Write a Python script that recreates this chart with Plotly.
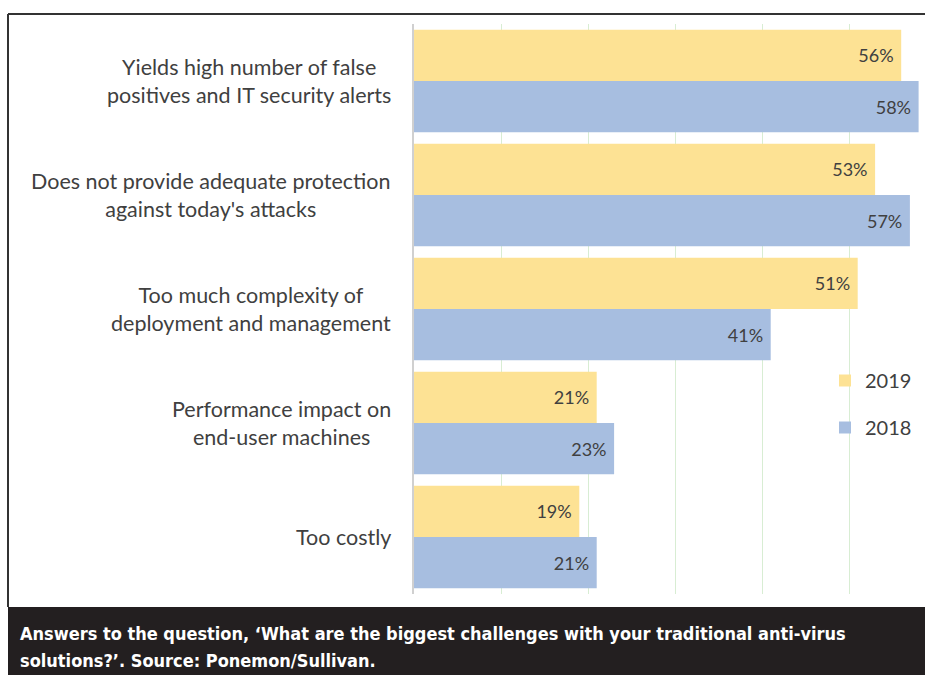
import plotly.graph_objects as go

categories = [
    "Yields high number of false<br>positives and IT security alerts",
    "Does not provide adequate protection<br>against today's attacks",
    "Too much complexity of<br>deployment and management",
    "Performance impact on<br>end-user machines",
    "Too costly",
]
values_2019 = [56, 53, 51, 21, 19]
values_2018 = [58, 57, 41, 23, 21]
series_names = ["2019", "2018"]
caption_lines = [
    "Answers to the question, \u2018What are the biggest challenges with your traditional anti-virus",
    "solutions?\u2019. Source: Ponemon/Sullivan.",
]

W, H = 925, 675
L, R, T, B = 414, 925, 24, 594
def px_x(p):
    return (p - L) / (R - L)
def px_y(p):
    return (B - p) / (B - T)

FONT = "Lato, 'Open Sans', sans-serif"
TXT = "#404040"
YEL = "#FDE294"
BLU = "#A7BEE0"

fig = go.Figure()
for name, vals, col in [(series_names[0], values_2019, YEL), (series_names[1], values_2018, BLU)]:
    fig.add_trace(go.Bar(
        y=categories, x=vals, orientation="h", name=name, legendgroup=name,
        marker=dict(color=col, line=dict(width=0)),
        texttemplate="%{x}%\u00a0", textposition="inside", insidetextanchor="end",
        textfont=dict(family=FONT, size=18, color=TXT), cliponaxis=False,
    ))

annotations = []
for c in categories:
    annotations.append(dict(
        x=px_x(393), xref="paper", y=c, yref="y", text=c, showarrow=False,
        xanchor="right", yanchor="middle", align="center",
        font=dict(family=FONT, size=21.5, color=TXT),
    ))
for i, (line, yc) in enumerate(zip(caption_lines, [633, 660])):
    annotations.append(dict(
        x=px_x(18), xref="paper", y=px_y(yc), yref="paper", text="<b>" + line + "</b>",
        showarrow=False, xanchor="left", yanchor="middle", align="left",
        font=dict(family="'DejaVu Sans Condensed', 'Liberation Sans Narrow', sans-serif", size=18, color="white"),
    ))

shapes = [
    dict(type="rect", xref="paper", yref="paper", x0=px_x(8), x1=px_x(930), y0=px_y(607), y1=px_y(680),
         fillcolor="#231F20", line=dict(width=0), layer="above"),
    dict(type="line", xref="paper", yref="paper", x0=px_x(8), x1=px_x(930), y0=px_y(14), y1=px_y(14),
         line=dict(color="#333333", width=2)),
    dict(type="line", xref="paper", yref="paper", x0=px_x(8), x1=px_x(8), y0=px_y(14), y1=px_y(607),
         line=dict(color="#333333", width=2)),
]

fig.update_layout(
    width=W, height=H, autosize=False,
    margin=dict(l=L, r=W - R, t=T, b=H - B, pad=0),
    paper_bgcolor="white", plot_bgcolor="white",
    barmode="group", bargap=0.1, bargroupgap=0,
    showlegend=True,
    legend=dict(x=px_x(825), y=px_y(404), xanchor="left", yanchor="middle",
                bgcolor="rgba(0,0,0,0)", font=dict(family=FONT, size=20, color=TXT),
                traceorder="grouped", tracegroupgap=18, itemwidth=30),
    xaxis=dict(range=[0, (R - L) / 8.7], showgrid=True, gridcolor="#D8EDD3", gridwidth=1,
               dtick=10, showticklabels=False, zeroline=False, showline=False, ticks=""),
    yaxis=dict(autorange="reversed", showticklabels=False, showgrid=False, zeroline=False,
               showline=True, linecolor="#D0D0D0", linewidth=2, ticks=""),
    annotations=annotations, shapes=shapes,
)

fig.write_html("out.html", config={"displayModeBar": False},
               post_script="document.body.style.margin='0';document.body.style.overflow='hidden';")
